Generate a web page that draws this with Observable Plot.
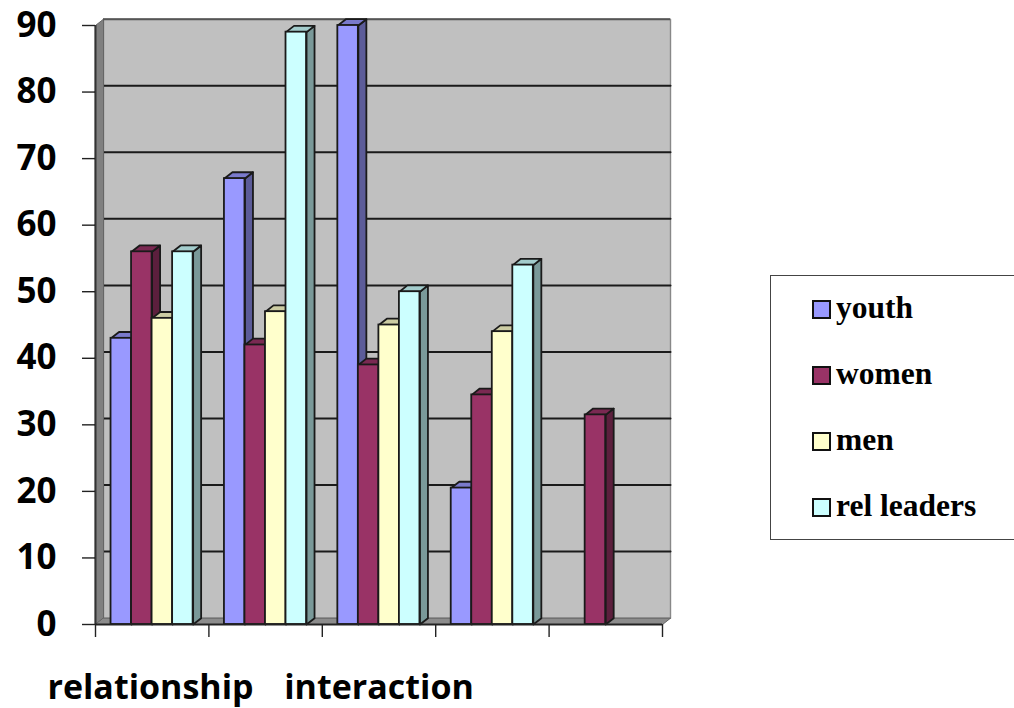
<!DOCTYPE html>
<html>
<head>
<meta charset="utf-8">
<script src="https://cdn.jsdelivr.net/npm/d3@7"></script>
<script src="https://cdn.jsdelivr.net/npm/@observablehq/plot@0.6"></script>
<style>
  html, body { margin: 0; background: #fff; }
  #chart { position: relative; width: 1014px; height: 708px; overflow: hidden; }
  #legend {
    position: absolute; left: 770px; top: 275px; width: 260px; height: 265px;
    box-sizing: border-box; border: 1px solid #444; background: #fff;
    font: bold 31.5px "Liberation Serif", serif; color: #000;
  }
  #legend div { position: absolute; left: 41px; height: 30px; line-height: 30px; white-space: nowrap; }
  #legend i {
    position: absolute; left: 0; top: 6px; width: 19px; height: 19px;
    border: 2px solid #111; box-sizing: border-box;
  }
  #legend span { position: absolute; left: 24px; top: -1px; }
</style>
</head>
<body>
<div id="chart"></div>
<script>
// Survey scores per group, read left to right along the five categories.
const seriesNames = ["youth", "women", "men", "rel leaders"];
const youth = [43, 67, 90, 20.5, null];
const women = [56, 42, 39, 34.5, 31.5];
const men = [46, 47, 45, 44, null];
const relLeaders = [56, 89, 50, 54, null];
const seriesValues = [youth, women, men, relLeaders];
const yTicks = [0, 10, 20, 30, 40, 50, 60, 70, 80, 90];
const xTicks = [0, 1, 2, 3, 4, 5];
const xLabels = [{label: "relationship", at: 0.485}, {label: "interaction", at: 2.5}];

// Colours for the front, side and top faces of each column.
const faces = {
  "youth": {front: "#9999ff", side: "#5c5c99", top: "#7a7acc"},
  "women": {front: "#993366", side: "#5c1f3d", top: "#7a2952"},
  "men": {front: "#ffffcc", side: "#99997a", top: "#cccca3"},
  "rel leaders": {front: "#ccffff", side: "#7a9999", top: "#a3cccc"}
};

// Pseudo-3D depth and column layout, in axis units.
const depthX = 8 / 113.4;
const depthY = 0.95;
const groupInset = 0.137;
const barWidth = 0.181;
const outline = "#1a1a1a";

const polygon = (points, fill, stroke = outline, strokeWidth = 1.8) =>
  Plot.line(points, {
    x: d => d[0], y: d => d[1], fill, stroke, strokeWidth,
    curve: "linear-closed", strokeLinejoin: "round"
  });

// One column: side and top parallelograms first, the front rectangle last.
function column(seriesIndex, groupIndex, value) {
  const c = faces[seriesNames[seriesIndex]];
  const x1 = groupIndex + groupInset + seriesIndex * barWidth;
  const x2 = x1 + barWidth;
  return [
    polygon([[x2, 0], [x2 + depthX, depthY], [x2 + depthX, value + depthY], [x2, value]], c.side),
    polygon([[x1, value], [x2, value], [x2 + depthX, value + depthY], [x1 + depthX, value + depthY]], c.top),
    Plot.rect([value], {
      x1: () => x1, x2: () => x2, y1: () => 0, y2: d => d,
      fill: c.front, stroke: outline, strokeWidth: 1.8, inset: 0
    })
  ];
}

const columns = [];
xTicks.slice(0, -1).forEach((_, g) => {
  seriesValues.forEach((values, s) => {
    if (values[g] != null) columns.push(...column(s, g, values[g]));
  });
});

const xMax = xTicks[xTicks.length - 1];
const yMax = yTicks[yTicks.length - 1];

const chart = Plot.plot({
  width: 1014,
  height: 708,
  marginLeft: 95,
  marginRight: 352,
  marginTop: 25,
  marginBottom: 84,
  style: {background: "#fff", overflow: "visible"},
  x: {type: "linear", domain: [0, xMax], axis: null},
  y: {type: "linear", domain: [0, yMax], axis: null},
  marks: [
    // Back wall, side wall and floor of the plot box.
    polygon([[depthX, depthY], [xMax + depthX, depthY], [xMax + depthX, yMax + depthY], [depthX, yMax + depthY]], "#c0c0c0", "#888", 1.4),
    ...yTicks.slice(1, -1).map(v =>
      Plot.line([[0, v], [depthX, v + depthY], [xMax + depthX, v + depthY]], {x: d => d[0], y: d => d[1], stroke: "#1a1a1a", strokeWidth: 2})
    ),
    polygon([[0, 0], [depthX, depthY], [depthX, yMax + depthY], [0, yMax]], "#808080", "#666", 1),
    polygon([[0, 0], [xMax, 0], [xMax + depthX, depthY], [depthX, depthY]], "#8c8c8c", "#666", 1),
    Plot.ruleY([yMax + depthY], {x1: depthX, x2: xMax + depthX, stroke: "#555", strokeWidth: 2}),
    ...columns,
    // Axes.
    Plot.ruleX([0], {y1: 0, y2: yMax, stroke: "#333", strokeWidth: 2}),
    Plot.ruleY([0], {stroke: "#222", strokeWidth: 2}),
    Plot.axisY({
      ticks: yTicks, tickSize: 13, tickPadding: 26, stroke: "#222", strokeWidth: 1.4,
      label: null, fontFamily: "Open Sans", fontSize: 35, fontWeight: "bold", fill: "#000"
    }),
    Plot.axisX({
      ticks: xTicks, tickSize: 13, tickFormat: () => "", stroke: "#222", strokeWidth: 1.4, label: null
    }),
    Plot.text(xLabels, {
      x: "at", text: "label", frameAnchor: "bottom", dy: 74, lineAnchor: "bottom",
      fontFamily: "Open Sans", fontSize: 34, fontWeight: "bold", fill: "#000"
    })
  ]
});

const host = document.getElementById("chart");
host.appendChild(chart);

// Legend box to the right of the plot.
const legend = document.createElement("div");
legend.id = "legend";
seriesNames.forEach((name, i) => {
  const row = document.createElement("div");
  row.style.top = 18 + i * 66 + "px";
  const swatch = document.createElement("i");
  swatch.style.background = faces[name].front;
  const text = document.createElement("span");
  text.textContent = name;
  row.append(swatch, text);
  legend.appendChild(row);
});
host.appendChild(legend);
</script>
</body>
</html>
